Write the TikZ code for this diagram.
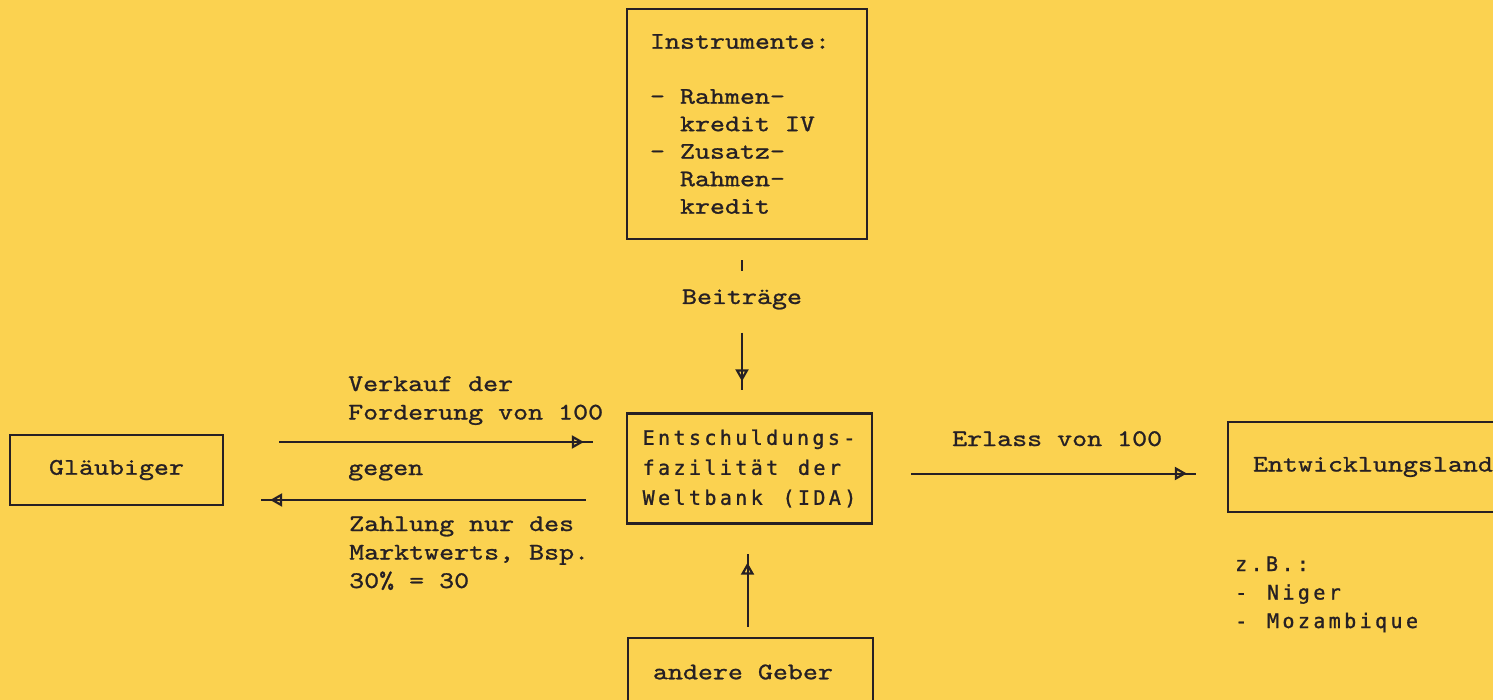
\documentclass[tikz,border=0pt]{standalone}
\usepackage{fontspec}
\newfontfamily\cour{lmmono10-regular.otf}[FakeStretch=1.2, FakeBold=1.0, WordSpace={1,0,0}]
\newfontfamily\dotfont{DejaVu Sans Mono}[LetterSpace=17, FakeBold=1.2, WordSpace={1.28,0,0}]
\newcommand\monoA{\cour\fontsize{23.8}{28.5}\selectfont}
\newcommand\monoB{\cour\fontsize{23.8}{27.5}\selectfont}
\newcommand\dotA{\dotfont\fontsize{20}{30}\selectfont}
\newcommand\dotB{\dotfont\fontsize{20}{28.5}\selectfont}
\usetikzlibrary{arrows.meta}
\definecolor{bg}{RGB}{251,210,80}
\definecolor{ink}{RGB}{38,32,36}
\begin{document}
\begin{tikzpicture}[x=1pt,y=-1pt,
  box/.style={draw=ink, line width=2.3pt, inner sep=0pt},
  mono/.style={font=\monoA, text=ink},
  dots/.style={font=\dotA, text=ink},
  txt/.style={inner sep=0pt, align=flush left, anchor=base west},
  arr/.style={draw=ink, line width=2pt,
    -{Triangle[open, length=12pt, width=13pt, line width=2.2pt] Rectangle[length=9pt, width=2pt, line width=0pt]}},
  ln/.style={draw=ink, line width=2pt}]
\useasboundingbox (0,0) rectangle (1493,700);
\clip (0,0) rectangle (1493,700);
\fill[bg] (0,0) rectangle (1493,700);

% boxes
\node[box, mono, font=\monoB, minimum width=240pt, minimum height=230pt, text width=194pt,
      inner xsep=23pt, align=flush left] (instr) at (747,124)
  {Instrumente:\\[27.5pt]
   - Rahmen-\\
   \hspace*{30pt}kredit IV\\
   - Zusatz-\\
   \hspace*{30pt}Rahmen-\\
   \hspace*{30pt}kredit};
\node[box, dots, minimum width=245pt, minimum height=110pt, align=flush left] (ida) at (749.5,468.5)
  {Entschuldungs-\\fazilität der\\Weltbank (IDA)};
\node[box, mono, minimum width=213pt, minimum height=70pt] (glaeub) at (116.5,470) {Gläubiger};
\node[box, mono, minimum width=245pt, minimum height=68pt, text width=195pt,
      inner xsep=25pt, align=flush left] (andere) at (750.5,672) {andere Geber};
\node[box, mono, minimum width=300pt, minimum height=90pt, text width=250pt,
      inner xsep=25pt, align=flush left] (entw) at (1378,467) {Entwicklungsland};

% free texts
\node[txt, mono, text width=290pt] (verk) at (348,391) {Verkauf der\\Forderung von 100};
\node[txt, mono, text width=120pt] (gegen) at (348,475) {gegen};
\node[txt, mono, text width=290pt] (zahl) at (349,531) {Zahlung nur des\\Marktwerts, Bsp.\\30\% = 30};
\node[txt, mono, text width=250pt] (erlass) at (952,446) {Erlass von 100};
\node[txt, dots, font=\dotB, text width=230pt] (zb) at (1235,571) {z.B.:\\- Niger\\- Mozambique};
\node[inner sep=0pt, mono, anchor=base] (beitr) at (742,304) {Beiträge};

% connectors
\draw[arr, shorten <=55pt, shorten >=33pt] ([yshift=28pt]glaeub.east) -- ([yshift=28pt]glaeub.east -| ida.west);
\draw[arr, shorten <=40pt, shorten >=37pt] ([yshift=-30pt]glaeub.east -| ida.west) -- ([yshift=-30pt]glaeub.east);
\draw[arr, shorten <=38pt, shorten >=31pt] ([yshift=-5pt]ida.east) -- ([yshift=-5pt]ida.east -| entw.west);
\draw[ln, shorten <=20pt, shorten >=18pt] (beitr.north |- instr.south) -- (beitr.north);
\draw[arr, shorten <=23pt, shorten >=22pt] (beitr.south) -- (beitr.south |- ida.north);
\draw[arr, shorten <=10pt, shorten >=29pt] ([xshift=-3pt]andere.north) -- ([xshift=-3pt]andere.north |- ida.south);
\end{tikzpicture}
\end{document}
